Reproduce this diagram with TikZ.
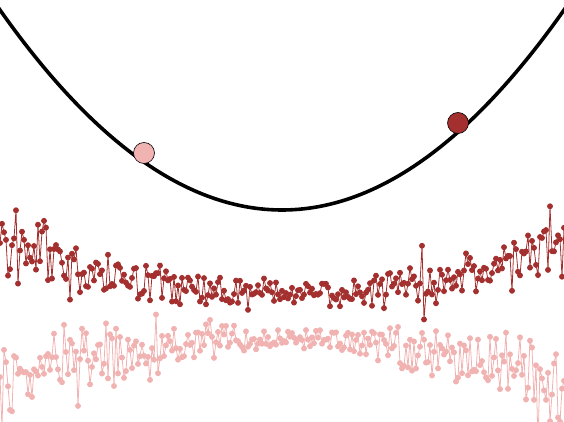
\documentclass[tikz,border=0pt]{standalone}
\usepackage{xcolor}
\usepackage{tikz}
\definecolor{bwDark}{HTML}{A3302F}
\definecolor{bwPink}{HTML}{F1B3B2}
\tikzset{
  bw-ball/.style={circle, draw=black, line width=0.6pt, minimum size=21pt, inner sep=0pt},
  bw-series/.style={line width=0.8pt, mark=*, mark size=2.5pt}
}
% noisy samples, kept in a list so that line and dots agree
\newcommand\bwnoisy[5]{% #1 list, #2 centre y, #3 curvature, #4 base sd, #5 edge sd
  \gdef#1{}%
  \foreach \i in {0,...,282}{%
    \pgfmathsetmacro\bwx{2*\i}%
    \pgfmathsetmacro\bwu{(\bwx-282)/282}%
    \pgfmathsetmacro\bwy{#2+#3*\bwu*\bwu+(#4+#5*abs(\bwu))*sqrt(-2*ln(0.002+0.996*rnd))*cos(360*rnd)}%
    \xdef#1{#1 (\bwx,\bwy)}%
  }%
}
\begin{document}
\begin{tikzpicture}[
  x=1pt, y=1pt,
  bowl/.style={line width=3.6pt, draw=black},
  dark/.style={bw-series, color=bwDark},
  light/.style={bw-series, color=bwPink}
]
\clip (0,0) rectangle (564,422);
\pgfmathsetseed{7}
% Noisy series (lower one first)
\bwnoisy{\lightpts}{82}{-45}{5}{18}
\bwnoisy{\darkpts}{129}{48}{5}{15}
\edef\bwplot{\noexpand\draw[light] plot coordinates {\lightpts};
  \noexpand\draw[dark] plot coordinates {\darkpts};}
\bwplot
% Bowl
\draw[bowl] plot[domain=-2:566, samples=120] (\x, {212+200*((\x-282)/282)^2});
% Balls
\node[bw-ball, fill=bwPink] (left ball) at (144,269) {};
\node[bw-ball, fill=bwDark] (right ball) at (458,299) {};
\end{tikzpicture}
\end{document}
